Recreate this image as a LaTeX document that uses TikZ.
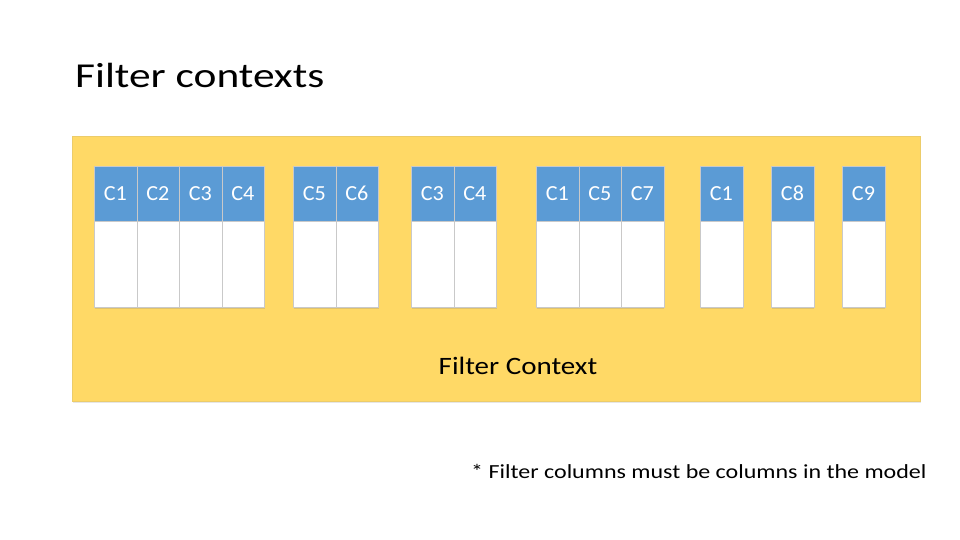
\documentclass[tikz,border=0pt]{standalone}
\usepackage{fontspec}
\setmainfont{Carlito}
\usetikzlibrary{shadows}
\definecolor{clPanel}{HTML}{FFD966}
\definecolor{clHead}{HTML}{5B9BD5}
\definecolor{clRule}{HTML}{C9C9C9}
\newcommand{\wide}[2]{\scalebox{#1}[1]{#2}}
\tikzset{
  panel/.style={rectangle, fill=clPanel, draw=clPanel!85!gray, inner sep=0pt,
                drop shadow={opacity=0.2, shadow xshift=0.5pt, shadow yshift=-2pt}},
  colhead/.style={rectangle, draw=clRule, fill=clHead, text=white, inner sep=0pt,
                  minimum width=42.5pt, minimum height=55pt, font=\fontsize{21.5}{24}\selectfont},
  colbody/.style={rectangle, draw=clRule, fill=white, inner sep=0pt,
                  minimum width=42.5pt, minimum height=86pt,
                  drop shadow={opacity=0.25, shadow xshift=0.5pt, shadow yshift=-2pt}},
  caption/.style={inner sep=0pt, text=black},
}

\begin{document}
\begin{tikzpicture}[x=1pt, y=-1pt]
  \useasboundingbox (0,0) rectangle (960,540);
  \node[caption, anchor=base west, font=\fontsize{35}{40}\selectfont] (title) at (75,88) {\wide{1.24}{Filter contexts}};
  \node[panel, anchor=north west, minimum width=848pt, minimum height=265pt] (ctx) at (72,136) {};
  % columns of the filter context
  \foreach \x/\lbl [count=\i] in {94/C1, 136.5/C2, 179/C3, 221.5/C4, 293/C5, 335.5/C6,
                                  411/C3, 453.5/C4, 536/C1, 578.5/C5, 621/C7,
                                  700/C1, 771/C8, 842/C9} {
    \node[colbody, anchor=north west] (body\i) at (\x,221) {};
    \node[colhead, anchor=north west] (head\i) at (\x,166) {\raisebox{-2pt}{\wide{1.03}{\lbl}}};
  }
  \node[caption, anchor=base, font=\fontsize{25}{30}\selectfont] (ctxname) at (518,374) {\wide{1.16}{Filter Context}};
  \node[caption, anchor=base west, font=\fontsize{20}{24}\selectfont] (note) at (471,478) {\wide{1.2}{* Filter columns must be columns in the model}};
\end{tikzpicture}
\end{document}
